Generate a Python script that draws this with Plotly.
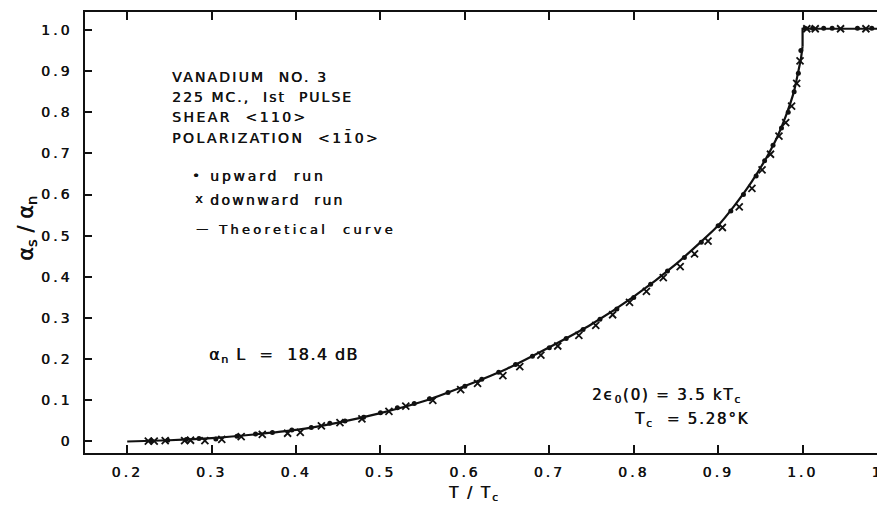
import plotly.graph_objects as go

# ---------------- data ----------------
curve_t = [0.20, 0.25, 0.30, 0.35, 0.40, 0.45, 0.50, 0.55, 0.60, 0.65, 0.70, 0.75,
           0.80, 0.85, 0.90, 0.92, 0.94, 0.96, 0.97, 0.98, 0.99, 0.995, 0.998, 1.000, 1.000, 1.10]
curve_v = [0.000, 0.003, 0.008, 0.017, 0.028, 0.046, 0.069, 0.097, 0.135, 0.177, 0.229, 0.285,
           0.352, 0.431, 0.525, 0.575, 0.632, 0.700, 0.740, 0.790, 0.852, 0.900, 0.930, 0.960, 1.003, 1.003]

up_t = [0.228, 0.248, 0.270, 0.285, 0.305, 0.330, 0.352, 0.372, 0.395, 0.418, 0.440, 0.458,
        0.480, 0.500, 0.520, 0.540, 0.558, 0.580, 0.600, 0.620, 0.640, 0.660, 0.680, 0.700,
        0.720, 0.740, 0.760, 0.780, 0.800, 0.820, 0.840, 0.860, 0.880, 0.900, 0.915, 0.930,
        0.945, 0.955, 0.965, 0.975, 0.983, 0.990, 0.995, 0.998, 1.003, 1.012, 1.025, 1.035,
        1.065, 1.082, 1.097]
up_v = [0.002, 0.003, 0.005, 0.007, 0.006, 0.013, 0.018, 0.022, 0.028, 0.034, 0.044, 0.050,
        0.059, 0.070, 0.082, 0.092, 0.104, 0.119, 0.134, 0.151, 0.168, 0.187, 0.207, 0.228,
        0.250, 0.272, 0.297, 0.322, 0.350, 0.382, 0.414, 0.447, 0.484, 0.524, 0.560, 0.600,
        0.645, 0.682, 0.720, 0.762, 0.800, 0.850, 0.895, 0.950, 1.004, 1.004, 1.004, 1.004,
        1.004, 1.004, 1.004]

down_t = [0.225, 0.232, 0.245, 0.268, 0.275, 0.292, 0.312, 0.335, 0.360, 0.390, 0.405, 0.430,
          0.452, 0.478, 0.510, 0.530, 0.562, 0.595, 0.615, 0.645, 0.665, 0.690, 0.710, 0.735,
          0.755, 0.775, 0.795, 0.815, 0.835, 0.855, 0.872, 0.888, 0.905, 0.925, 0.940, 0.952,
          0.962, 0.972, 0.980, 0.987, 0.993, 0.997, 1.005, 1.015, 1.045, 1.075]
down_v = [0.001, 0.001, 0.002, 0.002, 0.003, 0.002, 0.005, 0.012, 0.017, 0.020, 0.022, 0.038,
          0.046, 0.055, 0.073, 0.086, 0.100, 0.126, 0.141, 0.160, 0.182, 0.210, 0.232, 0.258,
          0.282, 0.308, 0.338, 0.365, 0.398, 0.425, 0.456, 0.487, 0.520, 0.570, 0.615, 0.660,
          0.698, 0.742, 0.775, 0.815, 0.870, 0.925, 1.003, 1.003, 1.003, 1.003]

x_tick_vals = [0.2, 0.3, 0.4, 0.5, 0.6, 0.7, 0.8, 0.9, 1.0, 1.1]
x_tick_labels = ["0.2", "0.3", "0.4", "0.5", "0.6", "0.7", "0.8", "0.9", "1.0", "1.1"]
y_tick_vals = [0.0, 0.1, 0.2, 0.3, 0.4, 0.5, 0.6, 0.7, 0.8, 0.9, 1.0]
y_tick_labels = ["0", "0.1", "0.2", "0.3", "0.4", "0.5", "0.6", "0.7", "0.8", "0.9", "1.0"]

# ---------------- layout geometry (window pixels; page body has an 8px margin) ----------------
# The right frame of the original lies just past the window edge, so the figure runs 2px beyond it.
OFF = 8
WIN_H = 510
PLOT_L, PLOT_R, PLOT_T, PLOT_B = 85, 887, 12, 453
W, H = PLOT_R - OFF, WIN_H - OFF
ML, MR, MT, MB = PLOT_L - OFF, 0, PLOT_T - OFF, WIN_H - PLOT_B
FONT = "DejaVu Sans"
INK = "#111111"
SHADOW = "0.5px 0px 0px #111111"


def px(x):
    return (x - PLOT_L) / (PLOT_R - PLOT_L)


def py(y):
    return (PLOT_B - y) / (PLOT_B - PLOT_T)


def sp(text, s):
    return f'<span style="letter-spacing:{s}px">{text}</span>'


# split the theoretical curve: smooth part below Tc, then the jump and the flat normal-state line
jump = curve_t.index(1.0)

fig = go.Figure()

fig.add_trace(go.Scatter(x=down_t, y=down_v, mode="markers",
                         marker=dict(symbol="x-thin", size=7, color=INK,
                                     line=dict(color=INK, width=1.8)),
                         showlegend=False))
fig.add_trace(go.Scatter(x=up_t, y=up_v, mode="markers",
                         marker=dict(symbol="circle", size=5, color=INK),
                         showlegend=False))
fig.add_trace(go.Scatter(x=curve_t[:jump + 1], y=curve_v[:jump + 1], mode="lines",
                         line=dict(color=INK, width=2.2, shape="spline", smoothing=0.6),
                         hoverinfo="skip", showlegend=False))
fig.add_trace(go.Scatter(x=curve_t[jump:], y=curve_v[jump:], mode="lines",
                         line=dict(color=INK, width=2.2),
                         hoverinfo="skip", showlegend=False))

tick_font = dict(family=FONT, size=14, color=INK, shadow=SHADOW)

fig.update_layout(
    width=W, height=H,
    margin=dict(l=ML, r=MR, t=MT, b=MB, pad=0, autoexpand=False),
    paper_bgcolor="white", plot_bgcolor="white",
    font=dict(family=FONT, color=INK),
    xaxis=dict(range=[0.15, 1.1], showgrid=False, zeroline=False, automargin=False,
               showline=True, linecolor=INK, linewidth=1.8, mirror="ticks",
               ticks="inside", ticklen=8, tickwidth=1.6, tickcolor=INK,
               tickmode="array", tickvals=x_tick_vals,
               ticktext=[sp(t, 3) for t in x_tick_labels],
               tickfont=tick_font, ticklabelstandoff=5, ticklabeloverflow="allow"),
    yaxis=dict(range=[-0.028, 1.0437], showgrid=False, zeroline=False, automargin=False,
               showline=True, linecolor=INK, linewidth=1.8, mirror="ticks",
               ticks="inside", ticklen=7, tickwidth=1.6, tickcolor=INK,
               tickmode="array", tickvals=y_tick_vals,
               ticktext=[sp(t, 3) for t in y_tick_labels],
               tickfont=tick_font, ticklabelstandoff=8),
)

anns = []


def add(text, x, y, size, xanchor="left", yanchor="middle", angle=0):
    anns.append(dict(text=text, x=px(x), y=py(y), xref="paper", yref="paper",
                     xanchor=xanchor, yanchor=yanchor, showarrow=False, textangle=angle,
                     font=dict(family=FONT, size=size, color=INK, shadow=SHADOW)))


# info block
add(sp("VANADIUM  NO. 3", 2.2), 170, 77, 14)
add(sp("225 MC.,  Ist  PULSE", 2.0), 170, 97, 14)
add(sp("SHEAR  &lt;110&gt;", 2.4), 170, 117, 14)
add(sp("POLARIZATION  &lt;11\u03040&gt;", 2.4), 170, 137.5, 14)

# legend lines
add("\u2022", 190, 175, 13)
add(sp("upward  run", 2.8), 208, 176, 14)
add("x", 193, 199, 13)
add(sp("downward  run", 2.3), 208, 200, 14)
add("\u2014", 194, 229, 12)
add(sp("Theoretical  curve", 3.3), 216, 230, 13)

# other annotations
add(sp("α<sub>n</sub> L  =  18.4 dB", 1.4), 207, 355, 16)
add(sp("2ϵ<sub>0</sub>(0) = 3.5 kT<sub>c</sub>", 1.8), 590, 395, 15)
add(sp("T<sub>c</sub>  = 5.28°K", 1.8), 632, 419, 15)

# axis titles
add(sp("T / T<sub>c</sub>", 2), 474, 493, 15, xanchor="center")
add("α<sub>s</sub> / α<sub>n</sub>", 27, 228, 21, xanchor="center", angle=-90)

fig.update_layout(annotations=anns)

fig.write_html("out.html")
